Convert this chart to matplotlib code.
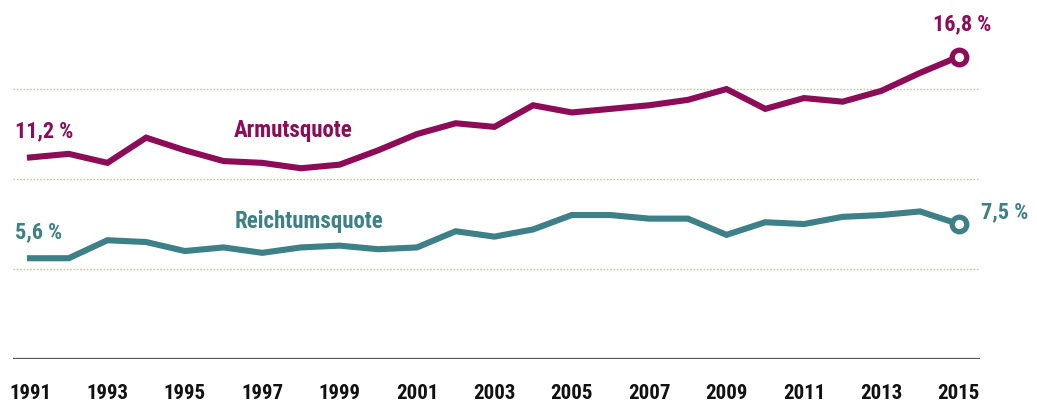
import matplotlib.pyplot as plt

years = list(range(1991, 2016))
armut = [11.2, 11.4, 10.9, 12.3, 11.6, 11.0, 10.9, 10.6, 10.8, 11.6, 12.5, 13.1, 12.9,
         14.1, 13.7, 13.9, 14.1, 14.4, 15.0, 13.9, 14.5, 14.3, 14.9, 15.9, 16.8]
reichtum = [5.6, 5.6, 6.6, 6.5, 6.0, 6.2, 5.9, 6.2, 6.3, 6.1, 6.2, 7.1, 6.8,
            7.2, 8.0, 8.0, 7.8, 7.8, 6.9, 7.6, 7.5, 7.9, 8.0, 8.2, 7.5]
tick_years = list(range(1991, 2016, 2))
grid_values = [5, 10, 15]

c_armut = '#8c0c58'
c_reich = '#3e8088'
plt.rcParams['font.family'] = ['Roboto Condensed', 'Barlow Condensed', 'Asap Condensed',
                               'Roboto', 'DejaVu Sans']

fig = plt.figure(figsize=(10.37, 4.05), dpi=100)
ax = fig.add_axes([13 / 1037, 46 / 405, 967 / 1037, 359 / 405])

for g in grid_values:
    ax.axhline(g, color='#c4c4aa', lw=1, ls=(0, (1.2, 1.2)), zorder=1)
ax.axhline(0, color='#555555', lw=1.6, zorder=2)

ax.plot(years, armut, color=c_armut, lw=4.4, solid_joinstyle='miter', zorder=3)
ax.plot(years, reichtum, color=c_reich, lw=4.4, solid_joinstyle='miter', zorder=3)
ax.plot(years[-1], armut[-1], 'o', ms=10.5, mew=3.8, mfc='white', mec=c_armut, zorder=4)
ax.plot(years[-1], reichtum[-1], 'o', ms=10.5, mew=3.8, mfc='white', mec=c_reich, zorder=4)

ax.set_xlim(1990.56, 2015.55)
ax.set_ylim(0, 19.95)

num = dict(fontsize=16, fontweight='semibold', va='center', clip_on=False)
ax.text(1990.61, 12.67, '11,2 %', color=c_armut, ha='left', **num)
ax.text(1990.61, 7.06, '5,6 %', color=c_reich, ha='left', **num)
ax.text(2015.1, 18.6, '16,8 %', color=c_armut, ha='center', **num)
ax.text(2015.57, 8.13, '7,5 %', color=c_reich, ha='left', **num)

name = dict(fontsize=16.5, fontweight='bold', va='center', ha='center')
ax.text(1997.8, 12.7, 'Armutsquote', color=c_armut, **name)
ax.text(1998.2, 7.63, 'Reichtumsquote', color=c_reich, **name)

ax.set_xticks(tick_years)
ax.set_xticklabels([str(y) for y in tick_years], fontsize=15, fontweight='bold', color='#111111')
ax.tick_params(axis='x', length=0, pad=18)
ax.set_yticks([])
for s in ax.spines.values():
    s.set_visible(False)

fig.savefig('out.png', dpi=100)
